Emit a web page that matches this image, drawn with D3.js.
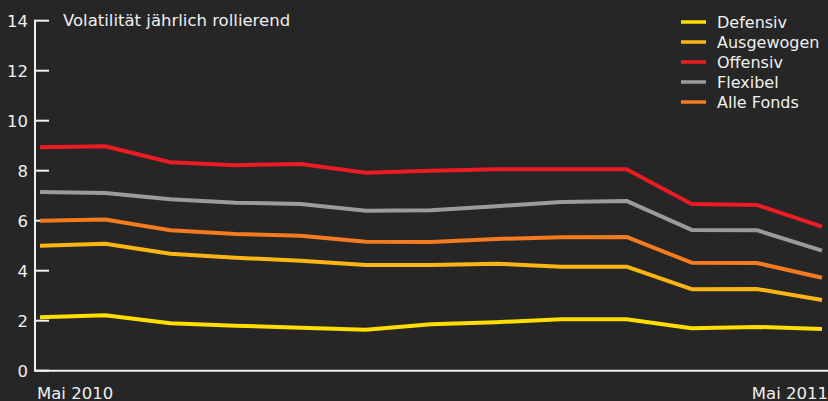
<!DOCTYPE html>
<html>
<head>
<meta charset="utf-8">
<script src="https://cdn.jsdelivr.net/npm/d3@7"></script>
<style>
  html, body { margin: 0; padding: 0; background: #262626; }
  svg { display: block; }
  text { font-family: "DejaVu Sans", sans-serif; fill: #f0f0f0; }
</style>
</head>
<body>
<svg id="chart" width="828" height="401"></svg>
<script>
// Monthly observations, May 2010 – May 2011
const months = ["2010-05","2010-06","2010-07","2010-08","2010-09","2010-10","2010-11",
                "2010-12","2011-01","2011-02","2011-03","2011-04","2011-05"];

const defensiv   = [2.14, 2.22, 1.90, 1.80, 1.72, 1.64, 1.86, 1.94, 2.06, 2.06, 1.70, 1.75, 1.67];
const ausgewogen = [5.00, 5.08, 4.68, 4.52, 4.40, 4.23, 4.23, 4.28, 4.16, 4.16, 3.26, 3.27, 2.83];
const offensiv   = [8.94, 8.98, 8.34, 8.22, 8.27, 7.92, 8.00, 8.06, 8.06, 8.06, 6.67, 6.63, 5.76];
const flexibel   = [7.15, 7.11, 6.86, 6.72, 6.67, 6.40, 6.42, 6.58, 6.75, 6.79, 5.63, 5.62, 4.80];
const alleFonds  = [6.00, 6.05, 5.62, 5.47, 5.40, 5.16, 5.15, 5.27, 5.34, 5.35, 4.32, 4.31, 3.72];

const seriesNames  = ["Defensiv", "Ausgewogen", "Offensiv", "Flexibel", "Alle Fonds"];
const seriesColors = ["#ffde00", "#fbb616", "#ec1c24", "#9b9b9d", "#f47b20"];
const yTicks = [0, 2, 4, 6, 8, 10, 12, 14];
const xLabels = ["Mai 2010", "Mai 2011"];
const title = "Volatilität jährlich rollierend";

const series = [defensiv, ausgewogen, offensiv, flexibel, alleFonds];

const svg = d3.select("#chart");

// evenly spaced monthly positions
const x = d3.scalePoint().domain(months).range([40, 822]);
const y = d3.scaleLinear().domain([0, 14]).range([370.7, 20.7]);

// Y axis: vertical rule, short ticks to the right, labels to the left
const yAxis = svg.append("g").attr("transform", "translate(35,0)");
yAxis.append("line")
  .attr("x1", 0).attr("x2", 0)
  .attr("y1", y(14) - 1).attr("y2", y(0))
  .attr("stroke", "#f0f0f0").attr("stroke-width", 2);
yAxis.selectAll("line.tick").data(yTicks).join("line")
  .attr("class", "tick")
  .attr("x1", 0).attr("x2", 14)
  .attr("y1", d => y(d)).attr("y2", d => y(d))
  .attr("stroke", "#f0f0f0").attr("stroke-width", 2);
yAxis.selectAll("text").data(yTicks).join("text")
  .attr("x", -7).attr("y", d => y(d))
  .attr("dy", "0.36em")
  .attr("text-anchor", "end")
  .attr("font-size", 16.5)
  .text(d => d);

// X axis baseline
svg.append("line")
  .attr("x1", 34).attr("x2", 828)
  .attr("y1", y(0)).attr("y2", y(0))
  .attr("stroke", "#f0f0f0").attr("stroke-width", 2);

svg.append("text")
  .attr("x", 37).attr("y", 398.5)
  .attr("font-size", 16.5)
  .text(xLabels[0]);
svg.append("text")
  .attr("x", 828).attr("y", 398.5)
  .attr("text-anchor", "end")
  .attr("font-size", 16.5)
  .text(xLabels[1]);

// Title
svg.append("text")
  .attr("x", 63).attr("y", 26)
  .attr("font-size", 16.5)
  .text(title);

// Series lines
const line = d3.line()
  .x((d, i) => x(months[i]))
  .y(d => y(d));

// red drawn last so it sits on top
const drawOrder = [0, 1, 4, 3, 2];
svg.append("g").selectAll("path").data(drawOrder).join("path")
  .attr("d", i => line(series[i]))
  .attr("fill", "none")
  .attr("stroke", i => seriesColors[i])
  .attr("stroke-width", 4)
  .attr("stroke-linejoin", "round");

// Legend
const legend = svg.append("g").attr("transform", "translate(681,22)");
const rows = legend.selectAll("g").data(seriesNames).join("g")
  .attr("transform", (d, i) => `translate(0,${i * 20})`);
rows.append("line")
  .attr("x1", 0).attr("x2", 25)
  .attr("y1", 0).attr("y2", 0)
  .attr("stroke", (d, i) => seriesColors[i])
  .attr("stroke-width", 3.5);
rows.append("text")
  .attr("x", 36).attr("y", 0)
  .attr("dy", "0.36em")
  .attr("font-size", 16)
  .text(d => d);
</script>
</body>
</html>
